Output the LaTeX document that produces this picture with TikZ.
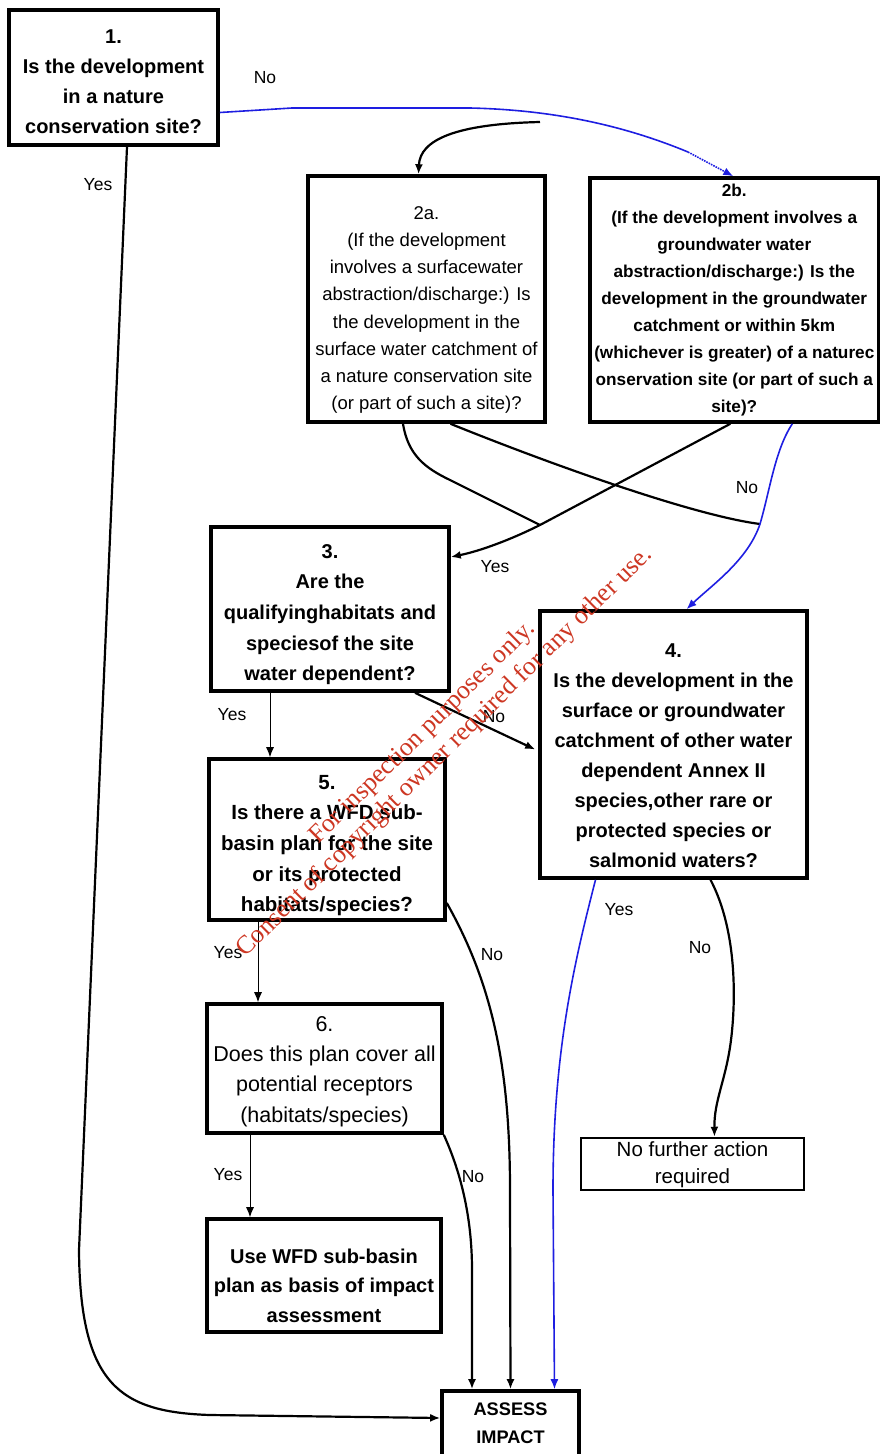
\documentclass[tikz,border=0pt]{standalone}
\usepackage{fontspec}
\setmainfont{Liberation Sans}
\newfontfamily\wmfont{Liberation Serif}
\usetikzlibrary{arrows.meta,calc}
\definecolor{lnblue}{RGB}{30,30,225}
\definecolor{wmred}{RGB}{205,55,35}
\begin{document}
\begin{tikzpicture}[x=1pt,y=-1pt,
  box/.style={draw=black, line width=3.6pt, inner sep=0pt},
  txt/.style={align=center, inner sep=0pt},
  tipA/.style={-{Latex[length=10pt,width=8pt]}},
  conn/.style={line width=2.2pt, tipA},
  plainln/.style={line width=2.2pt},
  bconn/.style={draw=lnblue, line width=1.6pt, tipA},
  thinconn/.style={line width=1pt, tipA},
  lab/.style={inner sep=0pt, font=\fontsize{17.5}{19}\selectfont},
  wm/.style={text=wmred, font=\wmfont\fontsize{26}{28}\selectfont, rotate=44.6, inner sep=0pt},
  bigb/.style={font=\fontsize{20}{30}\selectfont\bfseries},
]
\useasboundingbox (0,0) rectangle (881,1454);

% boxes
\node[box, minimum width=209pt, minimum height=135pt] (b1) at (113.5,77.5) {};
\node[box, minimum width=237pt, minimum height=246pt] (b2a) at (426.5,299) {};
\node[box, minimum width=288.5pt, minimum height=244pt] (b2b) at (734.3,300) {};
\node[box, minimum width=238pt, minimum height=164pt] (b3) at (330,609) {};
\node[box, minimum width=267pt, minimum height=267pt] (b4) at (673.5,744.5) {};
\node[box, minimum width=236pt, minimum height=161pt] (b5) at (327,839.5) {};
\node[box, minimum width=235pt, minimum height=129pt] (b6) at (324.5,1068.5) {};
\node[box, line width=2.5pt, minimum width=223pt, minimum height=52pt] (bnf) at (692.5,1164) {};
\node[box, minimum width=234pt, minimum height=113pt] (buse) at (324,1275.5) {};
\node[box, minimum width=137pt, minimum height=68pt] (bassess) at (510.5,1425) {};

% texts
\node[txt, bigb] (t1) at (113.5,82) {1.\\Is the development\\in a nature\\conservation site?};
\node[txt, font=\fontsize{18.5}{27.1}\selectfont] (t2a) at (426.5,310) {2a.\\(If the development\\involves a surfacewater\\abstraction/discharge:) Is\\the development in the\\surface water catchment of\\a nature conservation site\\(or part of such a site)?};
\node[txt, font=\fontsize{17.2}{26.9}\selectfont\bfseries] (t2b) at (734.3,300) {2b.\\(If the development involves a\\groundwater water\\abstraction/discharge:) Is the\\development in the groundwater\\catchment or within 5km\\(whichever is greater) of a naturec\\onservation site (or part of such a\\site)?};
\node[txt, font=\fontsize{20}{30.7}\selectfont\bfseries] (t3) at (330,614.5) {3.\\Are the\\qualifyinghabitats and\\speciesof the site\\water dependent?};
\node[txt, bigb] (t4) at (673.5,756) {4.\\Is the development in the\\surface or groundwater\\catchment of other water\\dependent Annex II\\species,other rare or\\protected species or\\salmonid waters?};
\node[txt, font=\fontsize{20.5}{30.7}\selectfont\bfseries] (t5) at (327,845.5) {5.\\Is there a WFD sub-\\basin plan for the site\\or its protected\\habitats/species?};
\node[txt, font=\fontsize{21.5}{30.3}\selectfont] (t6) at (324.5,1071.5) {6.\\Does this plan cover all\\potential receptors\\(habitats/species)};
\node[txt, font=\fontsize{20.5}{27}\selectfont] (tnf) at (692.5,1164.5) {No further action\\required};
\node[txt, font=\fontsize{20}{29.5}\selectfont\bfseries] (tuse) at (324,1285.5) {Use WFD sub-basin\\plan as basis of impact\\assessment};
\node[txt, font=\fontsize{18.2}{28}\selectfont\bfseries] (tassess) at (510.5,1423) {ASSESS\\IMPACT};

% junction coordinates
\coordinate (n1) at (688,152);
\coordinate (n2) at (540,122);
\coordinate (m3) at (540,525);
\coordinate (j4) at (760,524);

% 1 -> 2b (No), blue
\draw[draw=lnblue, line width=1.6pt] ($(b1.east)+(0,35)$) -- (292,108) -- (470,108) .. controls (560,110) and (630,128) .. (n1);
\draw[bconn, densely dotted] (n1) -- ($(b2b.north)+(-1,0)$);
% branch to 2a
\draw[conn] (n2) .. controls (455,124) and (420,140) .. ($(b2a.north)+(-8,0)$);

% 2a -> 3 and 2b -> 3 (Yes)
\draw[plainln] ($(b2a.south)+(-23.5,0)$) .. controls (408,455) and (425,468) .. (450,480) -- (m3);
\draw[conn] ($(b2b.south)+(-4,0)$) -- (m3) .. controls (510,540) and (480,551) .. ($(b3.east)+(0,-52)$);

% 2a -> join (No), 2b -> 4 (No), blue
\draw[plainln] ($(b2a.south)+(24,0)$) .. controls (540,460) and (690,515) .. (j4);
\draw[bconn] ($(b2b.south)+(58,0)$) .. controls (775,450) and (770,490) .. (j4) .. controls (748,560) and (712,585) .. ($(b4.north)+(13,0)$);

% 3 -> 5 (Yes), 3 -> 4 (No)
\draw[thinconn] ($(b3.south)+(-60,0)$) -- ($(b5.north)+(-57,0)$);
\draw[conn] ($(b3.south)+(85,0)$) -- ($(b4.west)+(-3,5)$);

% 5 -> 6 (Yes), 5 -> assess (No)
\draw[thinconn] ($(b5.south)+(-69,0)$) -- ($(b6.north)+(-66.5,0)$);
\draw[conn] ($(b5.east)+(0,63.5)$) .. controls (490,980) and (510,1060) .. (510,1190) -- (bassess.north);

% 4 -> assess (Yes), 4 -> no further (No)
\draw[bconn] ($(b4.south)+(-78,0)$) .. controls (575,960) and (553,1050) .. (553,1190) -- ($(bassess.north)+(44,0)$);
\draw[conn] ($(b4.south)+(37,0)$) .. controls (737,930) and (736,1000) .. (731,1040) .. controls (726,1080) and (714,1100) .. ($(bnf.north)+(22,0)$);

% 6 -> use (Yes), 6 -> assess (No)
\draw[thinconn] ($(b6.south)+(-74.5,0)$) -- ($(buse.north)+(-74,0)$);
\draw[conn] (b6.south east) .. controls (462,1175) and (472,1220) .. (472,1270) -- ($(bassess.north)+(-38.5,0)$);

% 1 -> assess (Yes)
\draw[conn] ($(b1.south)+(13.5,0)$) -- (79,1250) .. controls (80,1385) and (120,1412) .. (210,1415) -- ($(bassess.west)+(0,-7)$);

% labels
\node[lab] (l1) at (265,78) {No};
\node[lab] (l2) at (98,185) {Yes};
\node[lab] (l3) at (495,567) {Yes};
\node[lab] (l4) at (747,488) {No};
\node[lab] (l5) at (232,715) {Yes};
\node[lab] (l6) at (494,717) {No};
\node[lab] (l7) at (228,953) {Yes};
\node[lab] (l8) at (492,955) {No};
\node[lab] (l9) at (619,910) {Yes};
\node[lab] (l10) at (700,948) {No};
\node[lab] (l11) at (228,1175) {Yes};
\node[lab] (l12) at (473,1177) {No};

% watermark
\node[wm] (w1) at (423,733) {For inspection purposes only.};
\node[wm] (w2) at (445,752) {Consent of copyright owner required for any other use.};
\end{tikzpicture}
\end{document}
